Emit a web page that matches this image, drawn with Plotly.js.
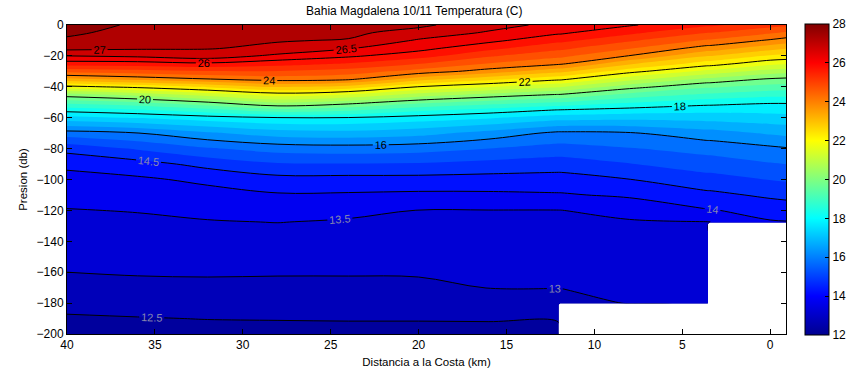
<!DOCTYPE html>
<html>
<head>
<meta charset="utf-8">
<script src="https://cdn.plot.ly/plotly-3.0.1.min.js"></script>
<style>html,body{margin:0;padding:0;background:#fff;}#chart{width:863px;height:375px;}</style>
</head>
<body>
<div id="chart"></div>
<script>
// Distance to coast (km) of each profile column (paired columns mark the edges of missing data)
const distKm = [40, 36, 32, 28, 24, 20, 16, 12.05, 11.95, 8, 3.55, 3.45, 0, -1];
// Pressure (db) of each row
const presion = [0, -5, -10, -15, -20, -25, -30, -35, -40, -45, -50, -55, -60, -70, -80, -90, -100, -110, -120, -127.5, -128.5, -140, -150, -160, -170, -180, -181, -190, -200];
// Temperature (C) profile of each column, top to bottom (null = no data)
const t40 = [27.8, 27.61, 27.40, 27.15, 26.5, 25.78, 24.67, 23.38, 21.85, 20.31, 19.2, 18.2, 17.33, 15.78, 14.67, 14.10, 13.85, 13.65, 13.48, 13.39, 13.38, 13.24, 13.12, 13.0, 12.81, 12.63, 12.61, 12.45, 12.3];
const t36 = [27.4, 27.29, 27.18, 27.07, 26.6, 25.8, 24.8, 23.69, 22.15, 20.71, 19.47, 18.42, 17.54, 15.98, 15.06, 14.3, 13.92, 13.72, 13.52, 13.42, 13.41, 13.27, 13.15, 13.04, 12.87, 12.67, 12.65, 12.48, 12.3];
const t32 = [27.2, 27.14, 27.09, 27.03, 26.78, 25.92, 24.96, 23.98, 22.57, 21.25, 19.98, 18.82, 17.79, 16.41, 15.45, 14.66, 14.1, 13.83, 13.62, 13.47, 13.46, 13.31, 13.18, 13.05, 12.89, 12.70, 12.68, 12.51, 12.35];
const t28 = [27.1, 27.06, 27.03, 26.9, 26.38, 25.7, 24.96, 24.22, 23.07, 21.76, 20.59, 19.33, 17.98, 16.75, 15.7, 14.95, 14.33, 13.95, 13.69, 13.51, 13.49, 13.32, 13.18, 13.04, 12.88, 12.70, 12.68, 12.52, 12.35];
const t24 = [27.2, 27.1, 26.97, 26.54, 26.09, 25.46, 24.78, 24.11, 22.83, 21.5, 20.25, 19.11, 17.98, 16.82, 15.76, 14.97, 14.33, 13.94, 13.62, 13.45, 13.44, 13.29, 13.16, 13.04, 12.88, 12.70, 12.68, 12.53, 12.35];
const t20 = [27.1, 26.81, 26.44, 26.17, 25.71, 25.02, 24.29, 23.25, 21.98, 20.82, 19.68, 18.63, 17.78, 16.67, 15.7, 14.95, 14.33, 13.9, 13.49, 13.41, 13.40, 13.27, 13.16, 13.05, 12.89, 12.71, 12.69, 12.53, 12.35];
const t16 = [26.7, 26.44, 26.13, 25.65, 25.06, 24.47, 23.78, 22.67, 21.53, 20.35, 19.3, 18.3, 17.56, 16.31, 15.5, 14.83, 14.31, 13.91, 13.49, 13.42, 13.41, 13.30, 13.21, 13.11, 13.01, 12.78, 12.76, 12.53, 12.38];
const t12a = [26.35, 26.08, 25.64, 25.13, 24.62, 24.10, 23.17, 22.13, 21.06, 19.98, 19.0, 17.98, 17.23, 15.88, 15.31, 14.73, 14.3, 13.95, 13.49, 13.43, 13.42, 13.31, 13.21, 13.11, 13.01, 12.78, 12.76, 12.53, 12.4];
const t12b = [26.35, 26.08, 25.64, 25.13, 24.62, 24.10, 23.17, 22.13, 21.06, 19.98, 19.0, 17.98, 17.23, 15.88, 15.31, 14.73, 14.3, 13.95, 13.49, 13.43, 13.42, 13.31, 13.21, 13.11, 13.01, 12.78, null, null, null];
const t8 = [26.05, 25.62, 25.08, 24.54, 23.98, 23.09, 22.18, 21.2, 20.2, 19.36, 18.56, 17.81, 17.16, 15.95, 15.47, 14.98, 14.49, 14.08, 13.64, 13.46, 13.45, 13.36, 13.28, 13.19, 13.11, 13.03, null, null, null];
const t3a = [25.6, 25.01, 24.42, 23.78, 23.02, 22.25, 21.35, 20.38, 19.59, 18.9, 18.21, 17.67, 17.21, 16.28, 15.69, 15.25, 14.81, 14.38, 13.96, 13.49, 13.48, 13.4, 13.35, 13.3, 13.25, 13.2, null, null, null];
const t3b = [25.6, 25.01, 24.42, 23.78, 23.02, 22.25, 21.35, 20.38, 19.59, 18.9, 18.21, 17.67, 17.21, 16.28, 15.69, 15.25, 14.81, 14.38, 13.96, 13.49, null, null, null, null, null, null, null, null, null];
const t0 = [25.2, 24.57, 23.93, 23.19, 22.44, 21.65, 20.78, 19.94, 19.31, 18.69, 18.06, 17.67, 17.30, 16.56, 15.89, 15.46, 15.02, 14.59, 14.19, 13.96, null, null, null, null, null, null, null, null, null];
const tm1 = [25.1, 24.43, 23.75, 23.05, 22.35, 21.57, 20.70, 19.88, 19.27, 18.67, 18.06, 17.68, 17.33, 16.63, 15.96, 15.51, 15.07, 14.63, 14.25, 13.98, null, null, null, null, null, null, null, null, null];
const colorTicks = [12, 14, 16, 18, 20, 22, 24, 26, 28];
const xTicks = [40, 35, 30, 25, 20, 15, 10, 5, 0];

const columns = [t40, t36, t32, t28, t24, t20, t16, t12a, t12b, t8, t3a, t3b, t0, tm1];
const z = presion.map((_, r) => columns.map(c => c[r]));

const jet = [[0, 'rgb(0,0,143)'], [0.125, 'rgb(0,0,255)'], [0.375, 'rgb(0,255,255)'],
             [0.625, 'rgb(255,255,0)'], [0.875, 'rgb(255,0,0)'], [1, 'rgb(128,0,0)']];
const FONT = 'Liberation Sans, Arial, sans-serif';

const base = {type: 'contour', x: distKm, y: presion, z: z, connectgaps: false, hoverinfo: 'skip', showscale: false};

const traces = [
  {type: 'heatmap', x: distKm, y: presion, z: z, colorscale: jet, zmin: 12, zmax: 28, opacity: 0,
   hoverinfo: 'skip', showscale: true,
   colorbar: {x: 1.0264, xanchor: 'left', xpad: 0, y: 0.5, yanchor: 'middle', ypad: 0,
              thickness: 24, thicknessmode: 'pixels', len: 311, lenmode: 'pixels',
              outlinewidth: 1, outlinecolor: 'black', tickvals: colorTicks, ticks: 'inside', ticklen: 4,
              tickcolor: 'black', tickfont: {family: FONT, size: 12, color: 'black'}}},
  Object.assign({}, base, {colorscale: jet, zmin: 12, zmax: 28, zauto: false,
    contours: {start: 12, end: 28, size: 0.5, coloring: 'fill', showlines: false},
    line: {width: 0}}),
  Object.assign({}, base, {contours: {start: 12.5, end: 14.6, size: 0.5, coloring: 'none', showlabels: true,
    labelfont: {family: FONT, size: 11, color: 'rgb(135,135,175)'}},
    line: {color: 'black', width: 1}}),
  Object.assign({}, base, {contours: {start: 16, end: 24.1, size: 2, coloring: 'none', showlabels: true,
    labelfont: {family: FONT, size: 11, color: 'black'}},
    line: {color: 'black', width: 1}}),
  Object.assign({}, base, {contours: {start: 26, end: 27.6, size: 0.5, coloring: 'none', showlabels: true,
    labelfont: {family: FONT, size: 11, color: 'black'}},
    line: {color: 'black', width: 1}})
];

const axisCommon = {showgrid: false, zeroline: false, showline: true, linecolor: 'black', linewidth: 1,
  mirror: 'ticks', ticks: 'inside', ticklen: 5, tickcolor: 'black',
  tickfont: {family: FONT, size: 12, color: 'black'}};

const layout = {
  width: 863, height: 375,
  margin: {l: 67, r: 75, t: 25, b: 41},
  paper_bgcolor: 'white', plot_bgcolor: 'white',
  showlegend: false,
  font: {family: FONT, size: 12, color: 'black'},
  title: {text: 'Bahia Magdalena 10/11 Temperatura (C)', x: 0.483, xanchor: 'center', xref: 'paper',
          y: 0.971, yanchor: 'middle', font: {family: FONT, size: 12, color: 'black'}},
  xaxis: Object.assign({}, axisCommon, {range: [40, -0.9], tickvals: xTicks,
          title: {text: 'Distancia a la Costa (km)', font: {family: FONT, size: 11.5, color: 'black'}, standoff: 6}}),
  yaxis: Object.assign({}, axisCommon, {range: [-200, 0], dtick: 20,
          title: {text: 'Presion (db)', font: {family: FONT, size: 11.5, color: 'black'}, standoff: 6}})
};

Plotly.newPlot('chart', traces, layout, {displayModeBar: false, staticPlot: true});
</script>
</body>
</html>
